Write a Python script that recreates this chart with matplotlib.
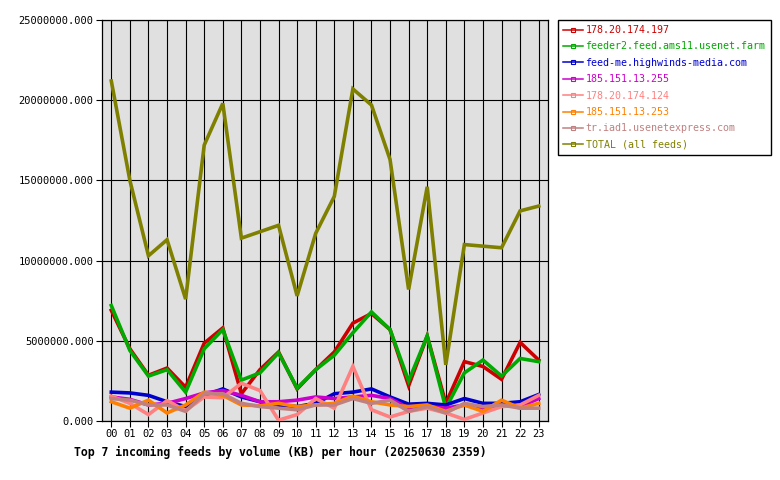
"""
Top 7 incoming feeds by volume (KB) per hour - INN style hourly graph.
"""
import matplotlib
matplotlib.use("Agg")
import matplotlib.pyplot as plt
import matplotlib.ticker as mticker
from matplotlib.lines import Line2D

HOURS = ["%02d" % h for h in range(24)]

FEEDS = ["178.20.174.197", "feeder2.feed.ams11.usenet.farm", "feed-me.highwinds-media.com",
         "185.151.13.255", "178.20.174.124", "185.151.13.253",
         "tr.iad1.usenetexpress.com", "TOTAL (all feeds)"]

# values in KB (millions)
feed_178_197 = [6.9, 4.5, 2.85, 3.3, 2.1, 4.85, 5.8, 1.7, 3.2, 4.3, 2.0, 3.2,
                4.3, 6.1, 6.7, 5.7, 2.2, 5.3, 1.1, 3.7, 3.4, 2.6, 4.9, 3.8]
feed_ams11 = [7.2, 4.4, 2.8, 3.2, 1.8, 4.5, 5.7, 2.55, 3.0, 4.25, 2.05, 3.2,
              4.1, 5.5, 6.8, 5.7, 2.5, 5.3, 0.8, 3.0, 3.8, 2.8, 3.9, 3.7]
feed_highwinds = [1.8, 1.75, 1.6, 1.2, 0.9, 1.6, 2.0, 1.5, 1.2, 1.0, 0.9, 1.1,
                  1.7, 1.8, 2.0, 1.5, 1.05, 1.1, 1.0, 1.4, 1.1, 1.1, 1.2, 1.65]
feed_185_255 = [1.5, 1.35, 1.0, 1.1, 1.4, 1.75, 1.9, 1.6, 1.2, 1.2, 1.3, 1.5,
                1.4, 1.5, 1.6, 1.4, 0.8, 0.9, 0.8, 1.0, 0.8, 1.0, 0.9, 1.4]
feed_178_124 = [1.55, 1.1, 0.4, 1.27, 0.65, 1.5, 1.45, 2.35, 1.9, 0.05, 0.4, 1.4,
                0.8, 3.4, 0.7, 0.25, 0.6, 0.8, 0.5, 0.1, 0.5, 0.9, 1.0, 1.6]
feed_185_253 = [1.2, 0.8, 1.3, 0.5, 1.0, 1.8, 1.6, 1.0, 0.95, 1.1, 0.9, 1.0,
                1.1, 1.55, 1.2, 1.0, 0.9, 1.0, 0.6, 1.0, 0.6, 1.3, 0.8, 1.1]
feed_usenetexpress = [1.4, 1.3, 1.0, 1.0, 0.6, 1.7, 1.7, 1.1, 0.9, 0.8, 0.7, 1.0,
                      1.0, 1.4, 1.1, 1.3, 0.6, 0.9, 0.5, 1.1, 0.9, 1.0, 0.8, 0.8]
feed_total = [21.2, 15.0, 10.3, 11.3, 7.6, 17.2, 19.8, 11.4, 11.8, 12.2, 7.8, 11.7,
              14.0, 20.7, 19.7, 16.3, 8.2, 14.6, 3.5, 11.0, 10.9, 10.8, 13.1, 13.4]

COLORS = ["#cc0000", "#00aa00", "#0000cc", "#cc00cc", "#ff8080", "#ff8000",
          "#c08080", "#808000"]

SERIES = [feed_178_197, feed_ams11, feed_highwinds, feed_185_255,
          feed_178_124, feed_185_253, feed_usenetexpress, feed_total]

MONO = "DejaVu Sans Mono"

fig = plt.figure(figsize=(7.8, 4.8), dpi=100)
ax = fig.add_axes([102 / 780, 1 - 421 / 480, 446 / 780, 401 / 480])
ax.set_facecolor("#e0e0e0")

x = list(range(24))
for vals, col in zip(SERIES, COLORS):
    ax.plot(x, [v * 1e6 for v in vals], color=col, lw=2.6, solid_joinstyle="miter", zorder=3)

ax.set_xlim(-0.5, 23.5)
ax.set_ylim(0, 25e6)
ax.set_xticks(x)
ax.set_xticklabels(HOURS, fontfamily=MONO, fontsize=7.5)
ax.yaxis.set_major_locator(mticker.MultipleLocator(5e6))
ax.yaxis.set_major_formatter(mticker.FuncFormatter(lambda v, p: "%.3f" % v))
for lab in ax.get_yticklabels():
    lab.set_fontfamily(MONO)
    lab.set_fontsize(7.5)
ax.grid(True, color="black", lw=0.8, zorder=1)
ax.set_axisbelow(True)
ax.tick_params(length=4, width=0.8, pad=2, colors="black")
for sp in ax.spines.values():
    sp.set_color("black")
    sp.set_linewidth(0.9)

fig.text(74 / 780, 1 - 452 / 480, "Top 7 incoming feeds by volume (KB) per hour (20250630 2359)",
         fontfamily=MONO, fontsize=8.3, fontweight="bold", ha="left", va="center")

handles = [Line2D([], [], color=c, lw=1.1, marker="s", markersize=3,
                  markerfacecolor="none", markeredgewidth=0.8) for c in COLORS]
leg = fig.legend(handles, FEEDS, loc="upper left", bbox_to_anchor=(558 / 780, 1 - 20 / 480),
                 frameon=True, fancybox=False, framealpha=1, edgecolor="black",
                 prop={"family": MONO, "size": 7.2}, handlelength=2.0, handletextpad=0.25,
                 borderpad=0.5, labelspacing=0.64, borderaxespad=0, numpoints=1)
leg.get_frame().set_linewidth(1.0)
for t, c in zip(leg.get_texts(), COLORS):
    t.set_color(c)

fig.savefig("out.png", dpi=100)
